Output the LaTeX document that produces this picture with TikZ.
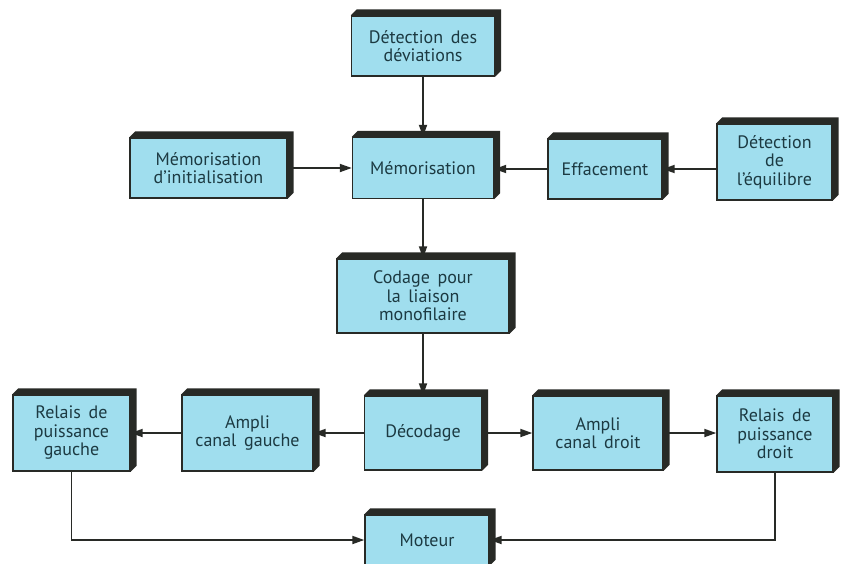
\documentclass[tikz,border=0pt]{standalone}
\usepackage{fontspec}
\setmainfont[WordSpace=1.6]{PT Sans}
\usetikzlibrary{arrows.meta,backgrounds}
\definecolor{boxfill}{RGB}{160,222,238}
\definecolor{dark}{RGB}{40,42,38}
\definecolor{txt}{RGB}{28,58,66}
\begin{document}
\begin{tikzpicture}[x=1pt,y=-1pt,
  box/.style={draw=dark, line width=1.4pt, fill=boxfill, text=txt, align=center,
    font=\fontsize{18}{18.5}\selectfont, inner sep=0pt},
  conn/.style={draw=dark, line width=1.8pt, -{Triangle[length=12pt,width=8pt]}}]
\useasboundingbox (0,0) rectangle (848,563);
\node[box, minimum width=143pt, minimum height=60pt] (dev) at (423,46) {Détection des\\déviations};
\node[box, minimum width=157pt, minimum height=60pt] (meminit) at (208.5,168) {Mémorisation\\d’initialisation};
\node[box, minimum width=141pt, minimum height=61pt] (mem) at (423,168) {Mémorisation};
\node[box, minimum width=114pt, minimum height=60pt] (eff) at (605,169) {Effacement};
\node[box, minimum width=115pt, minimum height=76pt] (equ) at (774.5,162) {Détection\\de\\l’équilibre};
\node[box, minimum width=172pt, minimum height=74pt] (cod) at (423,296) {Codage pour\\la liaison\\monofilaire};
\node[box, minimum width=117pt, minimum height=76pt] (relg) at (71.5,433) {Relais de\\puissance\\gauche};
\node[box, minimum width=131pt, minimum height=76pt] (ampg) at (247.5,433) {Ampli\\canal gauche};
\node[box, minimum width=117pt, minimum height=74pt] (dec) at (423,433) {Décodage};
\node[box, minimum width=130pt, minimum height=74pt] (ampd) at (598,433) {Ampli\\canal droit};
\node[box, minimum width=116pt, minimum height=76pt] (reld) at (775,434) {Relais de\\puissance\\droit};
\node[box, minimum width=124pt, minimum height=50pt] (mot) at (427,540) {Moteur};
\begin{scope}[on background layer]
\foreach \n in {dev,meminit,mem,eff,equ,cod,relg,ampg,dec,ampd,reld,mot}
  \fill[dark] (\n.north west) -- ++(6pt,6pt) -- ([shift={(6pt,6pt)}]\n.north east)
    -- ([shift={(6pt,6pt)}]\n.south east) -- (\n.south east) -- cycle;
\end{scope}
\draw[conn] (dev) -- (mem);
\draw[conn] (meminit) -- (mem);
\draw[conn] (eff.west) -- (mem.east |- eff.west);
\draw[conn] (equ.west |- eff.east) -- (eff.east);
\draw[conn] (mem) -- (cod);
\draw[conn] (cod) -- (dec);
\draw[conn] (dec) -- (ampg);
\draw[conn] (ampg) -- (relg);
\draw[conn] (dec) -- (ampd);
\draw[conn] (ampd.east) -- (reld.west |- ampd.east);
\draw[conn] (relg.south) |- (mot.west);
\draw[conn] (reld.south) |- (mot.east);
\end{tikzpicture}
\end{document}
